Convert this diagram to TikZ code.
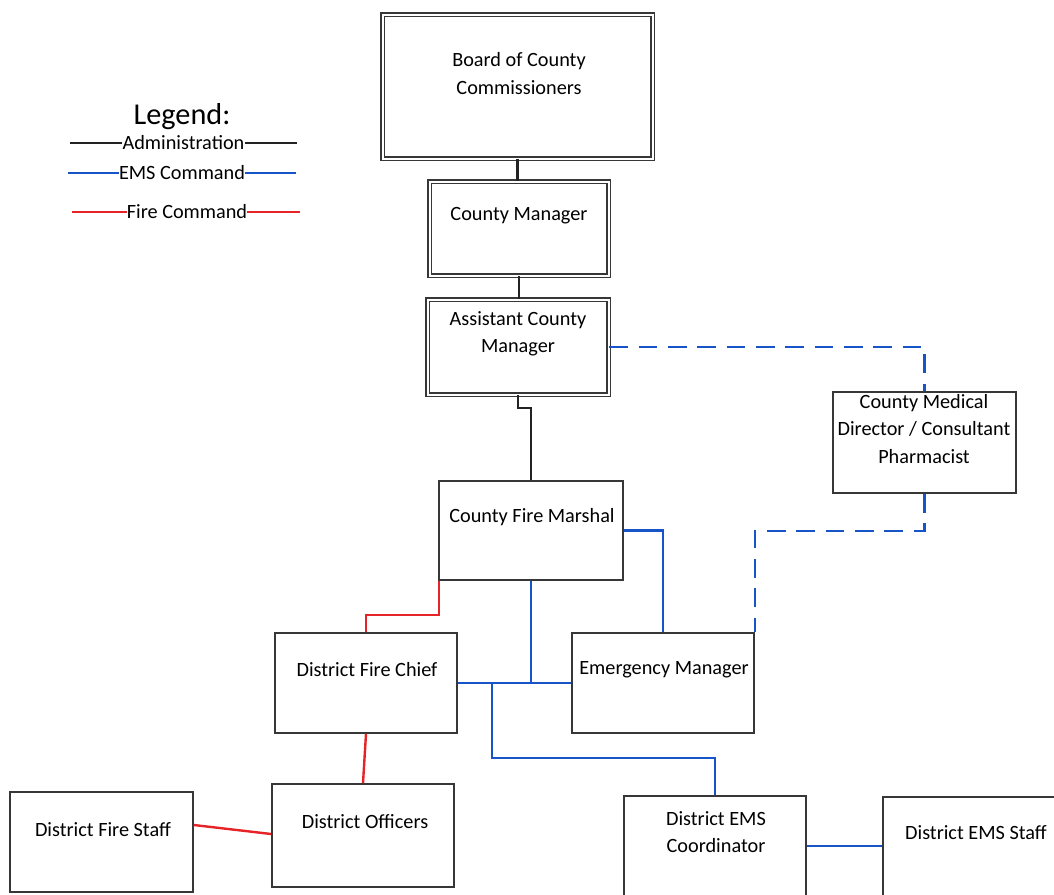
\documentclass[tikz,border=0pt]{standalone}
\usepackage{fontspec}
\setmainfont{Carlito}
\usetikzlibrary{calc}
\definecolor{emsblue}{RGB}{22,84,200}
\definecolor{firered}{RGB}{230,36,40}
\definecolor{admblack}{RGB}{35,35,35}
\definecolor{boxgray}{RGB}{55,55,55}
\tikzset{
	box/.style 2 args={draw=boxgray,line width=1.3pt,minimum width=#1*0.75pt,minimum height=#2*0.75pt,inner sep=0pt},
	dbox/.style 2 args={box={#1}{#2},double,double distance=1.5pt,line width=1.15pt},
	lbl/.style={align=center,inner sep=0pt,font=\fontsize{15.2}{20.3}\selectfont},
	admin/.style={admblack,line width=1.6pt},
	ems/.style={emsblue,line width=1.8pt},
	fire/.style={firered,line width=1.8pt},
	emsdash/.style={ems,dash pattern=on 14pt off 8pt},
}
\begin{document}
\begin{tikzpicture}[x=0.75pt,y=-0.75pt]
	\path[use as bounding box,clip] (0,0) rectangle (1054,894);
	% boxes
	\node[dbox={270}{144}] (board) at (517.5,86.5) {};
	\node[dbox={179}{94}] (cm) at (519,228.5) {};
	\node[dbox={181}{95}] (acm) at (518,347) {};
	\node[box={184}{99}] (cfm) at (531,530.5) {};
	\node[box={183}{101}] (med) at (924.5,442.5) {};
	\node[box={182}{100}] (dfc) at (366,683) {};
	\node[box={182}{100}] (em) at (663,683) {};
	\node[box={183}{100}] (dfs) at (101.5,842) {};
	\node[box={182}{103}] (dof) at (363,835.5) {};
	\node[box={182}{100}] (emsc) at (715,846) {};
	\node[box={183}{100}] (emss) at (974.5,847) {};
	% texts
	\node[lbl] (board-t) at (519,73.5) {Board of County\\Commissioners};
	\node[lbl] (cm-t) at (519,216) {County Manager};
	\node[lbl] (acm-t) at (518,334) {Assistant County\\Manager};
	\node[lbl] (cfm-t) at (532,517) {County Fire Marshal};
	\node[lbl] (med-t) at (924,429) {County Medical\\Director / Consultant\\Pharmacist};
	\node[lbl] (dfc-t) at (367,670) {District Fire Chief};
	\node[lbl] (em-t) at (664,670) {Emergency Manager};
	\node[lbl] (dfs-t) at (103,830) {District Fire Staff};
	\node[lbl] (dof-t) at (365,822) {District Officers};
	\node[lbl] (emsc-t) at (716,832.5) {District EMS\\Coordinator};
	\node[lbl] (emss-t) at (976,833) {District EMS Staff};
	% legend
	\node[lbl,font=\fontsize{22.7}{27}\selectfont] (leg) at (182,117) {Legend:};
	\node[lbl] (leg-adm) at (183.5,143) {Administration};
	\node[lbl] (leg-ems) at (182,173) {EMS Command};
	\node[lbl] (leg-fire) at (187,212) {Fire Command};
	\coordinate (adm-l) at (70,143);
	\coordinate (adm-r) at (297,143);
	\coordinate (ems-l) at (68,173);
	\coordinate (ems-r) at (296,173);
	\coordinate (fire-l) at (72,212);
	\coordinate (fire-r) at (300,212);
	\draw[admin] (adm-l) -- (adm-l -| leg-adm.west) (adm-r -| leg-adm.east) -- (adm-r);
	\draw[ems] (ems-l) -- (ems-l -| leg-ems.west) (ems-r -| leg-ems.east) -- (ems-r);
	\draw[fire] (fire-l) -- (fire-l -| leg-fire.west) (fire-r -| leg-fire.east) -- (fire-r);
	% connectors
	\draw[admin] (board.south) -- (board.south |- cm.north);
	\draw[admin] (cm.south) -- (cm.south |- acm.north);
	\draw[admin] (acm.south) -- ++(0,13) -| (cfm.north);
	\draw[emsdash] (acm.east) -| (med.north);
	\draw[emsdash] (med.south) -- ++(0,37) -| (em.north east);
	\draw[ems] (cfm.east) -| (em.north);
	\draw[ems] (cfm.south) -- (cfm.south |- dfc.east);
	\draw[ems] (dfc.east) -- (em.west);
	\coordinate (tap) at ($(dfc.east)+(34,0)$);
	\draw[ems] (tap) -- ++(0,75) -| (emsc.north);
	\draw[ems] (emsc.east) -- (emsc.east -| emss.west);
	\draw[fire] ($(cfm.south west)+(1,0)$) -- ++(0,34) -| (dfc.north);
	\draw[fire] (dfc.south) -- (dof.north);
	\draw[fire] ($(dfs.east)+(0,-17)$) -- ($(dof.west)+(0,-1.5)$);
\end{tikzpicture}
\end{document}
